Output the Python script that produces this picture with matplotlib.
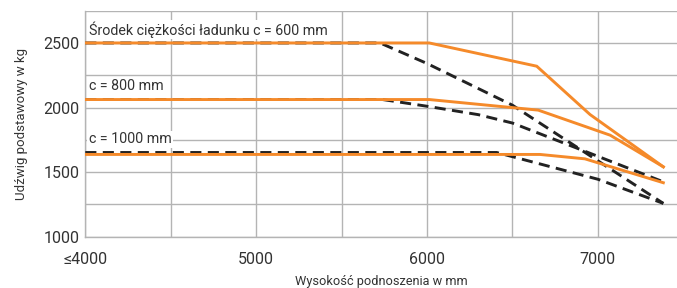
import matplotlib
matplotlib.use("Agg")
import matplotlib.pyplot as plt
from matplotlib.ticker import MultipleLocator

plt.rcParams['font.family'] = ['Roboto', 'DejaVu Sans']

# wysokosc podnoszenia [mm] / udzwig [kg]
orange_600_x = [4000, 6013, 6642, 6954, 7383]
orange_600_y = [2500, 2500, 2320, 1946, 1541]
orange_800_x = [4000, 6013, 6651, 7072, 7383]
orange_800_y = [2062, 2062, 1980, 1786, 1541]
orange_1000_x = [4000, 6661, 6924, 7383]
orange_1000_y = [1637, 1637, 1603, 1418]

dash_600_x = [4000, 5725, 6000, 6500, 7383]
dash_600_y = [2500, 2500, 2341, 2018, 1258]
dash_800_x = [4000, 5740, 6000, 6300, 6500, 7383]
dash_800_y = [2062, 2062, 2010, 1945, 1880, 1425]
dash_1000_x = [4000, 6408, 7000, 7383]
dash_1000_y = [1652, 1652, 1445, 1258]

labels = ["Środek ciężkości ładunku c = 600 mm", "c = 800 mm", "c = 1000 mm"]
label_y = [2605, 2170, 1755]

xticks = [4000, 5000, 6000, 7000]
xticklabels = ["≤4000", "5000", "6000", "7000"]
yticks = [1000, 1500, 2000, 2500]

orange = "#f58a2a"
dark = "#222222"
grid = "#b4b4b4"
txt = "#333333"

fig = plt.figure(figsize=(6.77, 2.88), dpi=100)
ax = fig.add_axes([0.126, 0.178, 0.874, 0.785])

for x, y in [(dash_600_x, dash_600_y), (dash_800_x, dash_800_y), (dash_1000_x, dash_1000_y)]:
    ax.plot(x, y, color=dark, lw=2.1, dashes=(3.8, 2.2), zorder=3)
for x, y in [(orange_600_x, orange_600_y), (orange_800_x, orange_800_y), (orange_1000_x, orange_1000_y)]:
    ax.plot(x, y, color=orange, lw=2.1, zorder=4, solid_joinstyle='miter')

for s, yy in zip(labels, label_y):
    ax.text(4020, yy, s, fontsize=10.3, color=txt, va='center', ha='left', zorder=2,
            bbox=dict(facecolor='white', edgecolor='none', pad=1.0))

ax.set_xlim(4000, 7463)
ax.set_ylim(1000, 2750)
ax.set_xticks(xticks)
ax.set_xticklabels(xticklabels)
ax.set_yticks(yticks)
ax.xaxis.set_minor_locator(MultipleLocator(500))
ax.yaxis.set_minor_locator(MultipleLocator(250))
ax.grid(True, which='both', color=grid, lw=1.0, zorder=0)
ax.set_axisbelow(True)
ax.tick_params(which='both', length=0)
ax.tick_params(axis='x', labelsize=11.5, colors=txt, pad=11)
ax.tick_params(axis='y', labelsize=11.5, colors=txt, pad=4)
for sp in ['top', 'right']:
    ax.spines[sp].set_visible(False)
for sp in ['left', 'bottom']:
    ax.spines[sp].set_color(grid)
    ax.spines[sp].set_linewidth(1.0)

ax.set_xlabel('Wysokość podnoszenia w mm', fontsize=9.2, color=txt, labelpad=6)
ax.set_ylabel('Udźwig podstawowy w kg', fontsize=9.5, color=txt, labelpad=11)

plt.savefig("out.png", dpi=100)
